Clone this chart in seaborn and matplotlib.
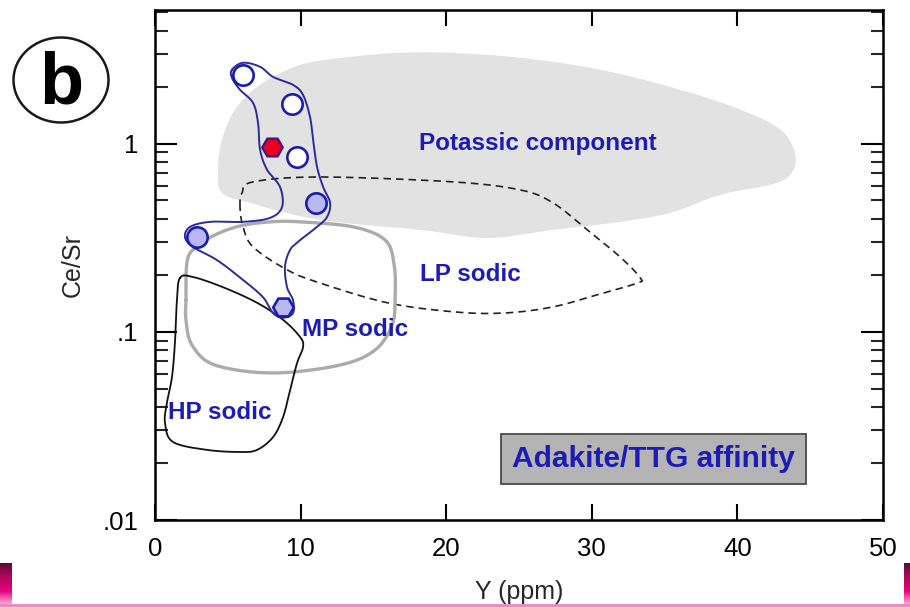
import numpy as np
import matplotlib
matplotlib.use("Agg")
import matplotlib.pyplot as plt
import seaborn as sns
from matplotlib.ticker import FixedLocator, FixedFormatter, LogLocator, NullFormatter
from matplotlib.patches import Ellipse
from matplotlib.colors import LinearSegmentedColormap

# ---- sample analyses: Y (ppm) and Ce/Sr ----
open_y = [6.05, 9.42, 9.76]
open_cesr = [2.33, 1.63, 0.853]
filled_y = [11.07, 2.89]
filled_cesr = [0.485, 0.32]
redhex_y = [8.04]
redhex_cesr = [0.96]
bluehex_y = [8.80]
bluehex_cesr = [0.136]

# ---- reference fields (outline vertices: Y ppm, Ce/Sr) ----
potassic_y = [4.33, 4.60, 5.50, 7.22, 9.97, 13.40, 16.84, 20.27, 25.09, 30.58, 36.08, 40.21,
              42.96, 43.99, 43.64, 42.27, 38.83, 35.40, 31.96, 27.35, 22.82, 18.21, 11.34, 6.53, 4.60]
potassic_cesr = [0.728, 1.05, 1.52, 2.06, 2.63, 2.90, 3.05, 3.05, 2.87, 2.48, 1.94, 1.52,
                 1.19, 0.874, 0.685, 0.606, 0.536, 0.430, 0.385, 0.349, 0.316, 0.349, 0.394, 0.485, 0.549]

lp_y = [5.84, 5.98, 6.74, 11.34, 20.48, 25.09, 27.35, 29.69, 31.96, 33.33, 33.13, 30.79,
        27.35, 23.92, 20.48, 15.95, 11.34, 9.07, 6.74, 6.05]
lp_cesr = [0.462, 0.549, 0.628, 0.667, 0.628, 0.569, 0.485, 0.349, 0.250, 0.194, 0.182, 0.161,
           0.136, 0.126, 0.128, 0.143, 0.182, 0.214, 0.283, 0.362]

mp_y = [2.13, 2.20, 2.75, 4.12, 5.84, 7.90, 9.97, 13.61, 15.81, 16.43, 16.49, 16.29,
        15.12, 12.71, 8.11, 4.12, 2.54, 2.13]
mp_cesr = [0.148, 0.236, 0.280, 0.328, 0.366, 0.385, 0.385, 0.362, 0.308, 0.227, 0.148, 0.109,
           0.0802, 0.0667, 0.0605, 0.0667, 0.0853, 0.116]

hp_y = [1.72, 2.61, 4.67, 7.01, 8.80, 9.97, 10.17, 9.76, 9.28, 8.80, 8.11, 7.01, 5.84, 3.57,
        1.24, 0.69, 0.82, 1.17, 1.37, 1.51]
hp_cesr = [0.194, 0.196, 0.173, 0.143, 0.116, 0.0940, 0.0832, 0.0684, 0.0491, 0.0353, 0.0276,
           0.0236, 0.0230, 0.0236, 0.0260, 0.0328, 0.0419, 0.0577, 0.0874, 0.148]

group_y = [5.29, 6.05, 7.22, 8.11, 9.48, 10.17, 10.65, 10.86, 11.13, 11.55, 12.03, 11.82, 11.13,
           9.97, 9.28, 8.93, 9.07, 9.48, 9.48, 8.80, 8.11, 7.42, 6.05, 4.26, 2.61, 2.06, 2.41,
           3.78, 6.05, 7.90, 8.73, 8.59, 7.70, 7.22, 7.08, 6.74, 5.84, 5.29]
group_cesr = [2.48, 2.70, 2.57, 2.27, 2.06, 1.82, 1.39, 1.05, 0.755, 0.590, 0.485, 0.409, 0.362,
              0.308, 0.273, 0.222, 0.173, 0.148, 0.126, 0.119, 0.126, 0.153, 0.189, 0.241, 0.283,
              0.320, 0.362, 0.385, 0.385, 0.404, 0.462, 0.590, 0.728, 0.929, 1.29, 1.65, 1.94, 2.24]

# ---- axis ticks ----
x_ticks = [0, 10, 20, 30, 40, 50]
y_ticks = [0.01, 0.1, 1]
y_tick_labels = [".01", ".1", "1"]


def closed_curve(xs, ys, n=14):
    """Closed Catmull-Rom curve through outline vertices (log space for Ce/Sr)."""
    p = np.column_stack([xs, np.log10(ys)])
    m = len(p)
    t = np.linspace(0, 1, n, endpoint=False)[:, None]
    segs = []
    for i in range(m):
        p0, p1, p2, p3 = p[i - 1], p[i], p[(i + 1) % m], p[(i + 2) % m]
        segs.append(0.5 * (2 * p1 + (-p0 + p2) * t + (2 * p0 - 5 * p1 + 4 * p2 - p3) * t ** 2
                           + (-p0 + 3 * p1 - 3 * p2 + p3) * t ** 3))
    pts = np.vstack(segs + [segs[0][:1]])
    return pts[:, 0], 10 ** pts[:, 1]


sns.set_theme(style="ticks")
plt.rcParams["font.family"] = ["Liberation Sans", "DejaVu Sans"]

fig = plt.figure(figsize=(9.1, 6.07), dpi=100)
ax = fig.add_axes([0.1703, 0.1433, 0.8, 0.8402])
ax.set_facecolor("white")

blue_txt = "#1c1cb4"
edge_blue = "#1c1cb0"

# fields
px, py = closed_curve(potassic_y, potassic_cesr)
ax.fill(px, py, color="#e2e2e2", lw=0, zorder=1)

lx, ly = closed_curve(lp_y, lp_cesr)
ax.plot(lx, ly, color="#222222", lw=1.2, ls=(0, (4.5, 3)), zorder=2)

mx, my = closed_curve(mp_y, mp_cesr)
ax.plot(mx, my, color="#ababab", lw=2.4, zorder=2)

hx, hy = closed_curve(hp_y, hp_cesr)
ax.plot(hx, hy, color="#111111", lw=1.3, zorder=3)

gx, gy = closed_curve(group_y, group_cesr)
ax.plot(gx, gy, color="#2b2b9c", lw=1.4, zorder=4)

# samples
sns.scatterplot(x=open_y, y=open_cesr, marker="o", s=215, color="white",
                edgecolor=edge_blue, linewidth=1.9, ax=ax, zorder=6)
sns.scatterplot(x=filled_y, y=filled_cesr, marker="o", s=215, color="#b8b8f2",
                edgecolor=edge_blue, linewidth=1.9, ax=ax, zorder=6)
sns.scatterplot(x=redhex_y, y=redhex_cesr, marker="H", s=220, color="#ea0020",
                edgecolor="#3a1a80", linewidth=1.6, ax=ax, zorder=6)
sns.scatterplot(x=bluehex_y, y=bluehex_cesr, marker="H", s=220, color="#b8b8f2",
                edgecolor=edge_blue, linewidth=1.9, ax=ax, zorder=6)

# field labels
lab = dict(color=blue_txt, fontsize=17.5, fontweight="bold", ha="center", va="center", zorder=7)
ax.text(26.32, 1.0, "Potassic component", **lab)
ax.text(21.65, 0.201, "LP sodic", **lab)
ax.text(13.75, 0.1026, "MP sodic", **lab)
ax.text(4.47, 0.0371, "HP sodic", **lab)
ax.text(34.23, 0.0211, "Adakite/TTG affinity", color=blue_txt, fontsize=21.5,
        fontweight="bold", ha="center", va="center", zorder=7,
        bbox=dict(boxstyle="square,pad=0.36", fc="#b4b4b4", ec="#4a4a4a", lw=1.3))

# axes
ax.set_yscale("log")
ax.set_xlim(0, 50)
ax.set_ylim(0.01, 5.15)
ax.xaxis.set_major_locator(FixedLocator(x_ticks))
ax.yaxis.set_major_locator(FixedLocator(y_ticks))
ax.yaxis.set_major_formatter(FixedFormatter(y_tick_labels))
ax.yaxis.set_minor_locator(LogLocator(base=10, subs=np.arange(2, 10)))
ax.yaxis.set_minor_formatter(NullFormatter())

ax.tick_params(axis="x", which="major", direction="in", length=11.5, width=1.5,
               top=True, bottom=True, labelsize=18.5, pad=12, colors="black")
ax.tick_params(axis="y", which="major", direction="in", length=16, width=1.5,
               left=True, right=True, labelsize=18.5, pad=12, colors="black")
ax.tick_params(axis="y", which="minor", direction="in", length=9, width=1.5,
               left=True, right=True)

for s in ax.spines.values():
    s.set_linewidth(1.8)
    s.set_color("black")
    s.set_visible(True)

ax.set_xlabel("Y (ppm)", fontsize=18, labelpad=14)
ax.set_ylabel("Ce/Sr", fontsize=18, labelpad=13)

# panel letter
fig.patches.append(Ellipse((61 / 910, 1 - 80 / 607), 95 / 910, 85 / 607,
                           transform=fig.transFigure, fill=False, ec="#1a1a1a", lw=1.8))
fig.text(61 / 910, 1 - 84 / 607, "b", fontsize=52, fontweight="bold", ha="center",
         va="center", color="black")

# slide decoration along the bottom edge
grad = LinearSegmentedColormap.from_list("slide", ["#5e0a34", "#b0085e", "#e8007e", "#f7b0d6"])
for left, width in [(0.0, 12 / 910), (904 / 910, 6 / 910)]:
    bax = fig.add_axes([left, 2 / 607, width, 42 / 607])
    bax.imshow(np.linspace(0, 1, 64)[:, None], aspect="auto", cmap=grad)
    bax.axis("off")
fig.add_artist(plt.Line2D([0, 1], [2 / 607, 2 / 607], transform=fig.transFigure,
                          color="#f080c4", lw=2))

fig.savefig("out.png", dpi=100)
